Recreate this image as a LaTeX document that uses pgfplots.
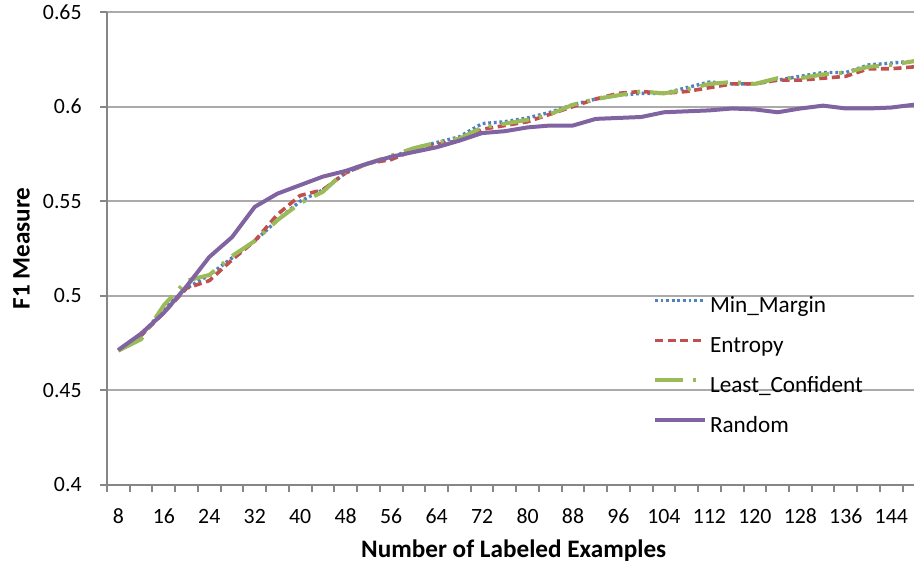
\documentclass[border=0pt]{standalone}
\usepackage{pgfplots}
\pgfplotsset{compat=1.18}
\usepackage{pgfplotstable}
\usepackage{fontspec}
\setmainfont{Carlito}
\definecolor{mmblue}{HTML}{4F81BD}
\definecolor{entred}{HTML}{C0504D}
\definecolor{lcgreen}{HTML}{9BBB59}
\definecolor{rndpurple}{HTML}{8064A2}
\definecolor{axisgray}{RGB}{134,134,134}
\definecolor{gridgray}{RGB}{170,170,170}

\pgfplotstableread{
x mm ent lc rnd
8 0.471 0.471 0.471 0.4714
12 0.479 0.479 0.477 0.480
16 0.493 0.491 0.495 0.491
20 0.504 0.504 0.508 0.505
24 0.511 0.508 0.511 0.5205
28 0.520 0.519 0.521 0.531
32 0.529 0.529 0.529 0.547
36 0.540 0.543 0.540 0.554
40 0.550 0.553 0.549 0.5585
44 0.556 0.556 0.555 0.563
48 0.565 0.565 0.566 0.566
52 0.570 0.570 0.570 0.570
56 0.573 0.572 0.574 0.5735
60 0.578 0.577 0.578 0.576
64 0.581 0.580 0.581 0.5785
68 0.584 0.582 0.583 0.582
72 0.591 0.588 0.589 0.586
76 0.592 0.590 0.591 0.587
80 0.594 0.592 0.593 0.589
84 0.597 0.596 0.596 0.590
88 0.601 0.600 0.601 0.590
92 0.604 0.604 0.604 0.5935
96 0.606 0.607 0.606 0.594
100 0.607 0.608 0.608 0.5945
104 0.607 0.607 0.607 0.597
108 0.610 0.608 0.609 0.5975
112 0.613 0.610 0.612 0.598
116 0.612 0.612 0.613 0.599
120 0.612 0.612 0.612 0.5985
124 0.614 0.614 0.615 0.597
128 0.616 0.614 0.615 0.599
132 0.618 0.615 0.617 0.6005
136 0.618 0.616 0.618 0.599
140 0.622 0.620 0.621 0.599
144 0.623 0.620 0.622 0.5995
148 0.624 0.621 0.624 0.601
}\datatable

\begin{document}
\fontsize{10.9}{13}\selectfont
\begin{tikzpicture}
\begin{axis}[
  scale only axis,
  width=403.5pt, height=236.5pt,
  xmin=6, xmax=148, ymin=0.4, ymax=0.65,
  axis x line*=bottom, axis y line*=left,
  axis line style={draw=axisgray, line width=1pt},
  xtick={8,16,...,144},
  minor xtick={6,10,...,146},
  ytick={0.4,0.45,0.5,0.55,0.6,0.65},
  ymajorgrids,
  grid style={draw=gridgray, line width=1pt},
  tick align=outside,
  major tick length=3.5pt, minor tick length=3.5pt,
  major x tick style={draw=none},
  minor x tick style={draw=axisgray, line width=1pt},
  major y tick style={draw=axisgray, line width=1pt},
  /pgf/number format/assume math mode=true,
  tick label style={font=\fontsize{10.9}{13}\selectfont, text=black},
  xticklabel style={anchor=base, yshift=-16pt},
  yticklabel style={anchor=east, inner sep=0pt, xshift=-9pt},
  xlabel={\textbf{Number of Labeled Examples}},
  ylabel={\textbf{F1 Measure}},
  xlabel style={at={(axis description cs:0.504,-0.1543)}, anchor=base, font=\fontsize{12.6}{15}\selectfont},
  ylabel style={at={(axis description cs:-0.106,0.5)}, anchor=center, font=\fontsize{12.6}{15}\selectfont},
  legend cell align=left,
  legend style={draw=none, fill=none, inner sep=0pt, outer sep=0pt,
    at={(axis description cs:0.6766,0.3953)}, anchor=north west,
    row sep=10pt,
    nodes={inner sep=0pt, text height=7pt, text depth=3pt},
    font=\fontsize{11.6}{14}\selectfont,
    /tikz/every odd column/.append style={column sep=1.5pt}},
  legend image code/.code={\draw[#1] (0pt,3.8pt) -- (25pt,3.8pt);},
]
\addplot[mmblue, line width=1.7pt, dash pattern=on 1.4pt off 1.4pt] table[x=x,y=mm]{\datatable};
\addlegendentry{Min\_Margin}
\addplot[entred, line width=1.8pt, dash pattern=on 4pt off 2.3pt] table[x=x,y=ent]{\datatable};
\addlegendentry{Entropy}
\addplot[lcgreen, line width=2pt, dash pattern=on 14pt off 5pt on 1.5pt off 5pt] table[x=x,y=lc]{\datatable};
\addlegendentry{Least\_Confident}
\addplot[rndpurple, line width=2pt] table[x=x,y=rnd]{\datatable};
\addlegendentry{Random}
\end{axis}
\pgfresetboundingbox
\path[use as bounding box] ([shift={(-53.5pt,-40pt)}]current axis.south west) rectangle ([shift={(0pt,6pt)}]current axis.north east);
\end{tikzpicture}
\end{document}
